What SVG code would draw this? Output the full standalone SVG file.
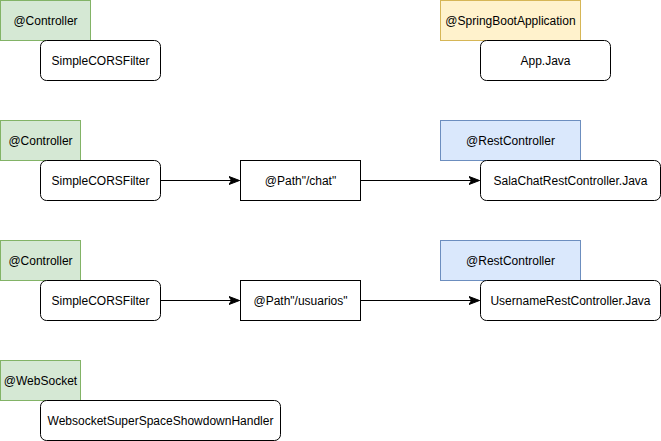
<svg xmlns="http://www.w3.org/2000/svg" width="661" height="441" viewBox="0 0 661 441">
<style>
text{font-family:Helvetica,"Liberation Sans",Arial,sans-serif;font-size:12px;fill:#000;text-anchor:middle}
.g{fill:#d5e8d4;stroke:#82b366;stroke-width:1}
.y{fill:#fff2cc;stroke:#d6b656;stroke-width:1}
.b{fill:#dae8fc;stroke:#6c8ebf;stroke-width:1}
.n{fill:#fff;stroke:#000;stroke-width:1}
.e{fill:none;stroke:#000;stroke-width:1}
</style>
<defs>
<marker id="arr" markerUnits="userSpaceOnUse" markerWidth="12" markerHeight="12" viewBox="0 0 12 12" refX="11" refY="6" orient="auto">
<path d="M0.5,2 L11,6 L0.5,10 L3,6 Z" fill="#000" stroke="#000" stroke-width="1"/>
</marker>
</defs>
<rect width="661" height="441" fill="#fff"/>
<g id="connectors">
<path class="e" d="M160.5,180.5 H239.5" marker-end="url(#arr)"/>
<path class="e" d="M360.5,180.5 H479.5" marker-end="url(#arr)"/>
<path class="e" d="M160.5,300.5 H239.5" marker-end="url(#arr)"/>
<path class="e" d="M360.5,300.5 H479.5" marker-end="url(#arr)"/>
</g>
<g id="ann-controller-1"><rect class="g" x="0.5" y="0.5" width="90" height="40"/><text x="45.5" y="24.5">@Controller</text></g>
<g id="cors-1"><rect class="n" x="40.5" y="40.5" width="120" height="40" rx="6"/><text x="100.5" y="64.5">SimpleCORSFilter</text></g>
<g id="ann-springboot"><rect class="y" x="440.5" y="0.5" width="140" height="40"/><text x="510.5" y="24.5">@SpringBootApplication</text></g>
<g id="app"><rect class="n" x="480.5" y="40.5" width="130" height="40" rx="6"/><text x="545.5" y="64.5">App.Java</text></g>
<g id="ann-controller-2"><rect class="g" x="0.5" y="120.5" width="80" height="40"/><text x="40.5" y="144.5">@Controller</text></g>
<g id="cors-2"><rect class="n" x="40.5" y="160.5" width="120" height="40" rx="6"/><text x="100.5" y="184.5">SimpleCORSFilter</text></g>
<g id="path-chat"><rect class="n" x="240.5" y="160.5" width="120" height="40"/><text x="300.5" y="184.5">@Path"/chat"</text></g>
<g id="ann-rest-1"><rect class="b" x="440.5" y="120.5" width="140" height="40"/><text x="510.5" y="144.5">@RestController</text></g>
<g id="salachat"><rect class="n" x="480.5" y="160.5" width="180" height="40" rx="6"/><text x="570.5" y="184.5">SalaChatRestController.Java</text></g>
<g id="ann-controller-3"><rect class="g" x="0.5" y="240.5" width="80" height="40"/><text x="40.5" y="264.5">@Controller</text></g>
<g id="cors-3"><rect class="n" x="40.5" y="280.5" width="120" height="40" rx="6"/><text x="100.5" y="304.5">SimpleCORSFilter</text></g>
<g id="path-usuarios"><rect class="n" x="240.5" y="280.5" width="120" height="40"/><text x="300.5" y="304.5">@Path"/usuarios"</text></g>
<g id="ann-rest-2"><rect class="b" x="440.5" y="240.5" width="140" height="40"/><text x="510.5" y="264.5">@RestController</text></g>
<g id="username"><rect class="n" x="480.5" y="280.5" width="180" height="40" rx="6"/><text x="570.5" y="304.5">UsernameRestController.Java</text></g>
<g id="ann-websocket"><rect class="g" x="0.5" y="360.5" width="80" height="40"/><text x="40.5" y="384.5">@WebSocket</text></g>
<g id="websocket-handler"><rect class="n" x="40.5" y="400.5" width="240" height="40" rx="6"/><text x="160.5" y="424.5">WebsocketSuperSpaceShowdownHandler</text></g>
</svg>
